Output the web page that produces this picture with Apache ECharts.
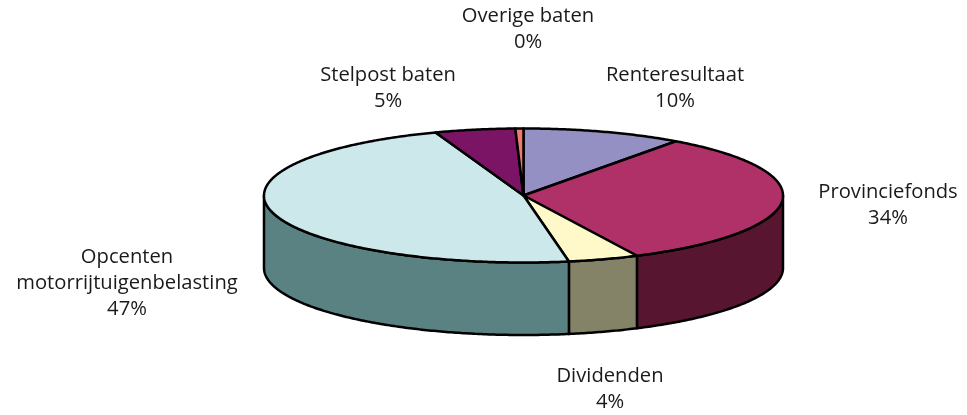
<!DOCTYPE html>
<html>
<head>
<meta charset="utf-8">
<style>html,body{margin:0;padding:0;background:#fff}#c{width:967px;height:415px}</style>
<script src="https://cdn.jsdelivr.net/npm/echarts@6/dist/echarts.min.js"></script>
</head>
<body>
<div id="c"></div>
<script>
// Data, clockwise from the top of the pie
const categories = ['Renteresultaat', 'Provinciefonds', 'Dividenden', 'Opcenten\nmotorrijtuigenbelasting', 'Stelpost baten', 'Overige baten'];
const sliceValues = [10.0, 32.8, 4.4, 47.3, 5.0, 0.5];
const percentLabels = ['10%', '34%', '4%', '47%', '5%', '0%'];

// Styles and layout
const topColors = ['#9490c4', '#b03068', '#fff8c8', '#cde8ea', '#7c1466', '#ef7b70'];
const sideColors = ['#4a4862', '#58152f', '#848267', '#5a8282', '#3e0a33', '#773d38'];
const labelCentres = [[675, 88], [888, 205], [610, 389], [127, 283], [388, 88], [528, 29]];
const pie = { cx: 523.5, cy: 195.5, rx: 259.5, ry: 67, depth: 72.5 };
const FONT = '"Open Sans", sans-serif';

const total = sliceValues.reduce((a, b) => a + b, 0);
function startAngle(i) {
  let s = 0;
  for (let k = 0; k < i; k++) s += sliceValues[k];
  return s / total * Math.PI * 2;
}
function rim(a, dy) {
  return [pie.cx + pie.rx * Math.sin(a), pie.cy - pie.ry * Math.cos(a) + (dy || 0)];
}
function arc(a0, a1, dy) {
  const n = Math.max(2, Math.ceil((a1 - a0) / 0.01));
  const pts = [];
  for (let j = 0; j <= n; j++) pts.push(rim(a0 + (a1 - a0) * j / n, dy));
  return pts;
}
const lineStyle = { stroke: '#000', lineWidth: 2.5, lineJoin: 'round' };

function renderSide(params, api) {
  const i = params.dataIndex;
  const a0 = startAngle(i), a1 = a0 + api.value(0) / total * Math.PI * 2;
  const from = Math.max(a0, Math.PI / 2), to = Math.min(a1, Math.PI * 1.5);
  if (to <= from) return { type: 'group', children: [] };
  return {
    type: 'polygon',
    shape: { points: arc(from, to, 0).concat(arc(from, to, pie.depth).reverse()) },
    style: Object.assign({ fill: sideColors[i] }, lineStyle)
  };
}
function renderTop(params, api) {
  const i = params.dataIndex;
  const a0 = startAngle(i), a1 = a0 + api.value(0) / total * Math.PI * 2;
  return {
    type: 'polygon',
    shape: { points: [[pie.cx, pie.cy]].concat(arc(a0, a1, 0)) },
    style: Object.assign({ fill: topColors[i] }, lineStyle)
  };
}
function renderLabel(params) {
  const i = params.dataIndex;
  return {
    type: 'text',
    style: {
      x: labelCentres[i][0], y: labelCentres[i][1],
      text: categories[i] + '\n' + percentLabels[i],
      fill: '#1a1a1a', font: '20.2px ' + FONT, lineHeight: 26,
      align: 'center', verticalAlign: 'middle'
    }
  };
}

const chart = echarts.init(document.getElementById('c'), null, { renderer: 'canvas' });
chart.setOption({
  animation: false,
  backgroundColor: '#fff',
  series: [
    { type: 'custom', coordinateSystem: 'none', z: 1, data: sliceValues, renderItem: renderSide, silent: true },
    { type: 'custom', coordinateSystem: 'none', z: 2, data: sliceValues, renderItem: renderTop, silent: true },
    { type: 'custom', coordinateSystem: 'none', z: 3, data: sliceValues, renderItem: renderLabel, silent: true }
  ]
});
</script>
</body>
</html>
